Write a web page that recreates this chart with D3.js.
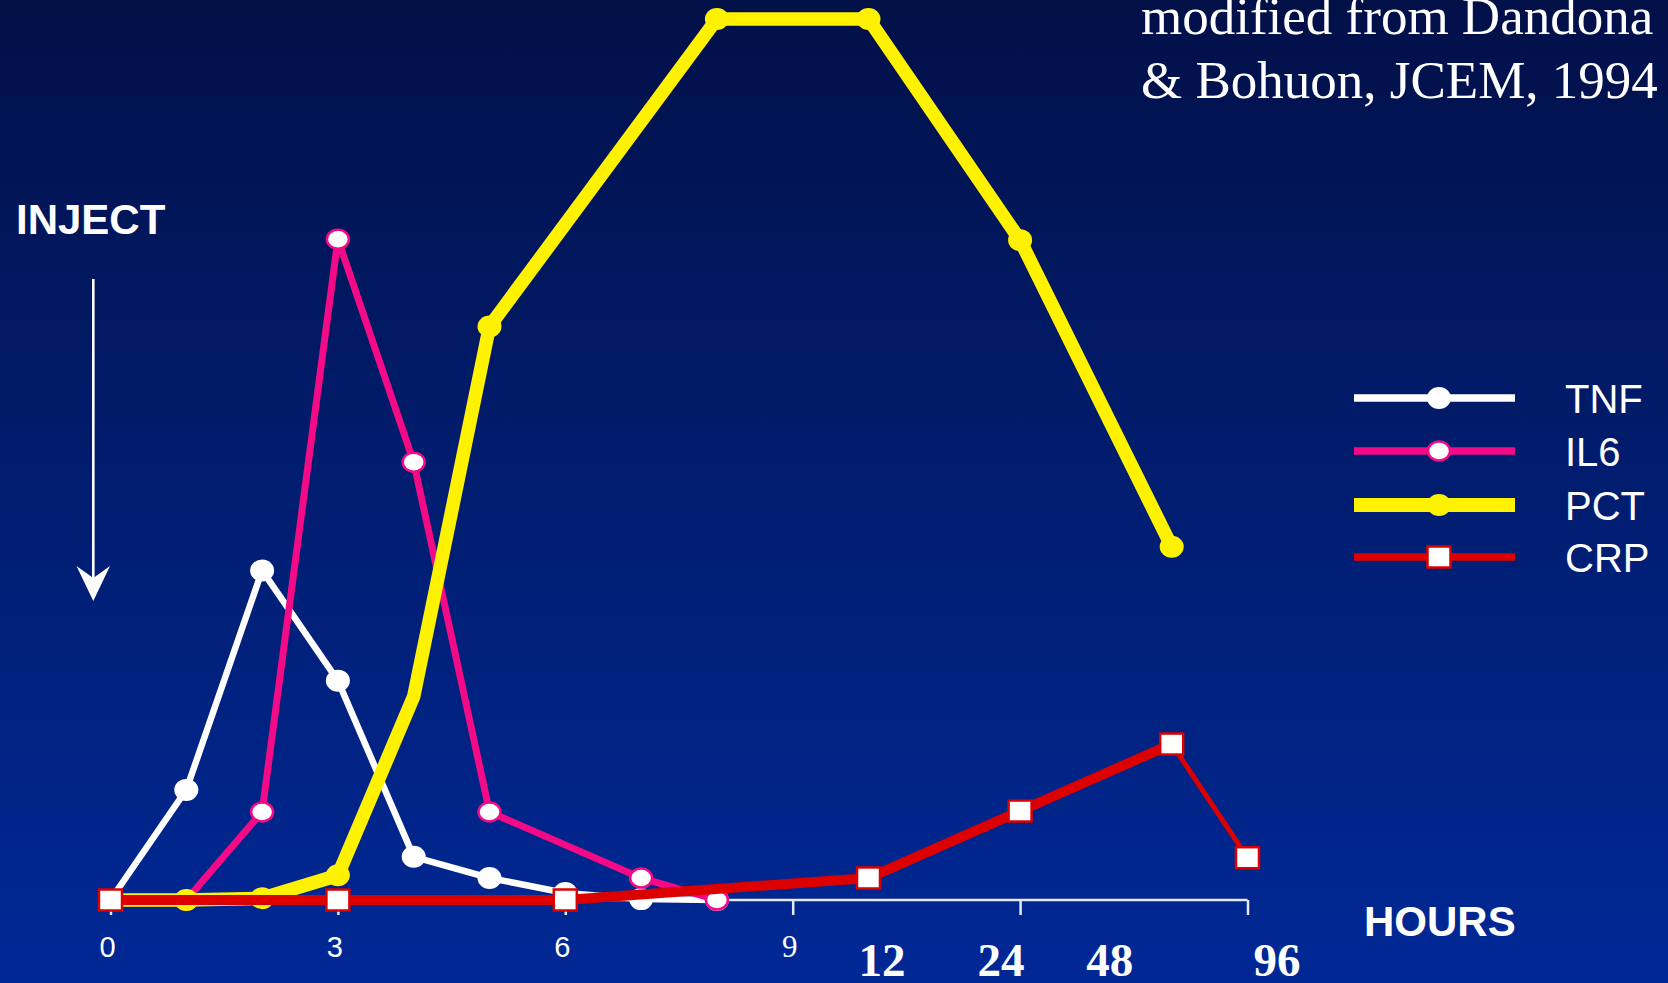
<!DOCTYPE html>
<html>
<head>
<meta charset="utf-8">
<script src="https://cdn.jsdelivr.net/npm/d3@7/dist/d3.min.js"></script>
<style>
  html, body { margin: 0; padding: 0; background: #001a6a; overflow: hidden; }
  svg { display: block; }
</style>
</head>
<body>
<svg id="chart" width="1668" height="983"></svg>
<script>
// Time course of cytokines / acute-phase markers after endotoxin injection
// (relative units, PCT peak = 100)

const tnfHours = [0, 1, 2, 3, 4, 5, 6, 7, 8];
const tnfValues = [0, 12.5, 37.4, 24.9, 4.9, 2.5, 0.8, 0.1, 0];

const il6Hours = [1, 2, 3, 4, 5, 7, 8];
const il6Values = [0, 10, 75, 49.7, 10, 2.5, 0];

const pctHours = [0, 1, 2, 3, 4, 5, 8, 12, 24, 48];
const pctValues = [0, 0, 0.2, 2.8, 23.1, 65.1, 100, 100, 74.9, 40.1];

const crpHours = [0, 3, 6, 12, 24, 48, 96];
const crpValues = [0, 0, 0, 2.5, 10.1, 17.7, 4.8];

const seriesNames = ["TNF", "IL6", "PCT", "CRP"];

const tickHours = [0, 3, 6, 9, 24, 96];
const smallTickLabels = ["0", "3", "6", "9"];
const bigTickLabels = ["12", "24", "48", "96"];

const sourceLines = ["modified from Dandona", "& Bohuon, JCEM, 1994"];

// ---------------------------------------------------------------------------
const W = 1668, H = 983;
const svg = d3.select("#chart");

// background gradient
const defs = svg.append("defs");
const grad = defs.append("linearGradient")
  .attr("id", "bg").attr("x1", 0).attr("y1", 0).attr("x2", 0).attr("y2", 1);
grad.append("stop").attr("offset", "0%").attr("stop-color", "#021048");
grad.append("stop").attr("offset", "45%").attr("stop-color", "#011c6c");
grad.append("stop").attr("offset", "100%").attr("stop-color", "#002896");
svg.append("rect").attr("width", W).attr("height", H).attr("fill", "url(#bg)");

// Broken time axis: hourly spacing up to 9 h, then compressed 12/24/48/96 h
const slot = 75.8, x0 = 110.5;
const x = d3.scaleLinear()
  .domain([0, 9, 12, 24, 48, 96])
  .range([0, 9, 10, 12, 14, 15].map(s => x0 + s * slot));
const y = d3.scaleLinear().domain([0, 100]).range([900, 19]);

const SANS = "'Liberation Sans', Arial, Helvetica, sans-serif";
const SERIF = "'Liberation Serif', 'Times New Roman', serif";

// x axis
const axisG = svg.append("g").attr("transform", `translate(0,${y(0)})`);
const axis = d3.axisBottom(x).tickValues(tickHours).tickSize(15).tickFormat("");
axisG.call(axis);
axisG.select(".domain").attr("stroke", "#e6e8f4").attr("stroke-width", 2.5)
  .attr("d", `M${x(0)},0H${x(96)}`);
axisG.selectAll(".tick line").attr("stroke", "#e6e8f4").attr("stroke-width", 2.5);

// small hourly labels
svg.append("g").selectAll("text")
  .data(smallTickLabels)
  .join("text")
  .attr("x", d => x(+d) - 3)
  .attr("y", 957)
  .attr("text-anchor", "middle")
  .attr("fill", "#fff")
  .attr("font-family", (d, i) => i === 3 ? SERIF : SANS)
  .attr("font-size", (d, i) => i === 3 ? 31 : 29)
  .text(d => d);

// large labels for the compressed section
const bigOffsets = [13.5, -19, -62, 29.5];
svg.append("g").selectAll("text")
  .data(bigTickLabels)
  .join("text")
  .attr("x", (d, i) => x(+d) + bigOffsets[i])
  .attr("y", 976)
  .attr("text-anchor", "middle")
  .attr("fill", "#fff")
  .attr("font-family", SERIF)
  .attr("font-weight", "bold")
  .attr("font-size", 47)
  .text(d => d);

svg.append("text")
  .attr("x", 1364).attr("y", 936)
  .attr("fill", "#fff").attr("font-family", SANS)
  .attr("font-weight", "bold").attr("font-size", 42)
  .text("HOURS");

// INJECT marker
svg.append("text")
  .attr("x", 16).attr("y", 234)
  .attr("fill", "#fff").attr("font-family", SANS)
  .attr("font-weight", "bold").attr("font-size", 42)
  .text("INJECT");
svg.append("line")
  .attr("x1", 93.3).attr("x2", 93.3).attr("y1", 279).attr("y2", 585)
  .attr("stroke", "#fff").attr("stroke-width", 2.6);
svg.append("path")
  .attr("d", "M93.3,601 L76.5,566 L93.3,578 L110,566 Z")
  .attr("fill", "#fff");

// source note
svg.append("g").selectAll("text")
  .data(sourceLines)
  .join("text")
  .attr("x", 1141)
  .attr("y", (d, i) => 34 + i * 64)
  .attr("fill", "#fff")
  .attr("font-family", SERIF)
  .attr("font-size", 53)
  .text(d => d);

// ---------------------------------------------------------------------------
const series = [
  { name: "TNF", hours: tnfHours, values: tnfValues, color: "#ffffff",
    width: 6.5, marker: "dot", mFill: "#ffffff", mStroke: "none", rx: 12, ry: 11 },
  { name: "IL6", hours: il6Hours, values: il6Values, color: "#f20a86",
    width: 7, marker: "dot", mFill: "#ffffff", mStroke: "#f20a86", rx: 11, ry: 9.5 },
  { name: "PCT", hours: pctHours, values: pctValues, color: "#fff200",
    width: 13.5, marker: "dot", mFill: "#fff200", mStroke: "none", rx: 12, ry: 11,
    skipMarker: [4] },
  { name: "CRP", hours: crpHours, values: crpValues, color: "#dc0000",
    width: 10, marker: "square", mFill: "#ffffff", mStroke: "#dc0000", rx: 11.5, ry: 10.5 }
];

const line = d3.line().x(d => x(d.h)).y(d => y(d.v));

function drawMarker(g, cx, cy, s) {
  if (s.marker === "square") {
    g.append("rect")
      .attr("x", cx - s.rx).attr("y", cy - s.ry)
      .attr("width", 2 * s.rx).attr("height", 2 * s.ry)
      .attr("fill", s.mFill).attr("stroke", s.mStroke).attr("stroke-width", 2.5);
  } else {
    g.append("ellipse")
      .attr("cx", cx).attr("cy", cy).attr("rx", s.rx).attr("ry", s.ry)
      .attr("fill", s.mFill)
      .attr("stroke", s.mStroke)
      .attr("stroke-width", s.mStroke === "none" ? 0 : 2.5);
  }
}

series.forEach(s => {
  const pts = s.hours.map((h, i) => ({ h, v: s.values[i] }));
  const g = svg.append("g").attr("class", "series-" + s.name);
  if (s.name === "CRP") {
    // the final 48 h -> 96 h segment is drawn thinner
    g.append("path").attr("d", line(pts.slice(0, -1)))
      .attr("fill", "none").attr("stroke", s.color)
      .attr("stroke-width", s.width).attr("stroke-linejoin", "miter");
    g.append("path").attr("d", line(pts.slice(-2)))
      .attr("fill", "none").attr("stroke", s.color).attr("stroke-width", 5);
  } else {
    g.append("path").attr("d", line(pts))
      .attr("fill", "none").attr("stroke", s.color)
      .attr("stroke-width", s.width).attr("stroke-linejoin", "miter");
  }
  pts.filter(p => !(s.skipMarker || []).includes(p.h))
    .forEach(p => drawMarker(g, x(p.h), y(p.v), s));
});

// legend
const legY = [398, 451, 505, 557];
const leg = svg.append("g");
series.forEach((s, i) => {
  const ly = legY[i];
  leg.append("line")
    .attr("x1", 1354).attr("x2", 1515).attr("y1", ly).attr("y2", ly)
    .attr("stroke", s.color).attr("stroke-width", s.name === "PCT" ? 14 : 7.5);
  drawMarker(leg, 1439, ly, s);
  leg.append("text")
    .attr("x", 1565).attr("y", ly + 15)
    .attr("fill", "#fff").attr("font-family", SANS).attr("font-size", 40)
    .text(seriesNames[i]);
});
</script>
</body>
</html>
